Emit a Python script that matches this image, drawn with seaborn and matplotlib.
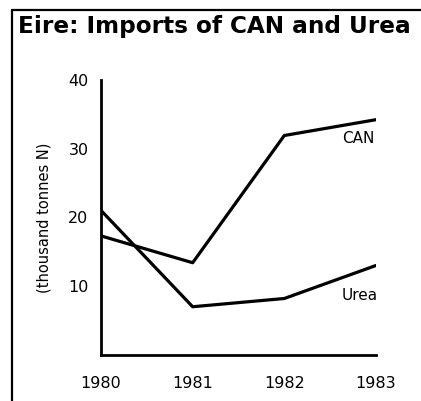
import pandas as pd
import numpy as np
import matplotlib.pyplot as plt
import seaborn as sns
from matplotlib.lines import Line2D

# values (thousand tonnes N)
years = [1980, 1981, 1982, 1983]
can_imports = [17.3, 13.4, 31.9, 34.2]
urea_imports = [21.0, 7.0, 8.2, 13.0]
y_ticks = [10, 20, 30, 40]

df = pd.DataFrame({
    'year': years * 2,
    'imports': can_imports + urea_imports,
    'product': ['CAN'] * len(years) + ['Urea'] * len(years),
})

sns.set_style('white')
plt.rcParams['font.family'] = ['DejaVu Sans']
plt.rcParams['text.color'] = 'black'
plt.rcParams['axes.labelcolor'] = 'black'
plt.rcParams['xtick.color'] = 'black'
plt.rcParams['ytick.color'] = 'black'

fig = plt.figure(figsize=(4.21, 4.01), dpi=100)
ax = fig.add_axes([0.240, 0.115, 0.653, 0.686])

sns.lineplot(data=df, x='year', y='imports', hue='product',
             palette={'CAN': 'black', 'Urea': 'black'},
             linewidth=2.3, legend=False, ax=ax)

ax.set_xlim(1980, 1983)
ax.set_ylim(0, 40)
ax.set_xticks(years)
ax.set_xticklabels([str(y) for y in years], fontsize=11.5)
ax.set_yticks(y_ticks)
ax.set_yticklabels([str(t) for t in y_ticks], fontsize=11.5)
ax.tick_params(axis='x', direction='out', length=6, width=1.3, pad=9)
ax.tick_params(axis='y', direction='out', length=5, width=1.3, pad=4)
ax.set_xlabel('')
ax.set_ylabel('(thousand tonnes N)', fontsize=10.5, labelpad=12)

sns.despine(ax=ax)
for side in ['left', 'bottom']:
    ax.spines[side].set_linewidth(2)
    ax.spines[side].set_color('black')

# direct labels at the right end of each line
ax.text(1982.63, 31.4, 'CAN', fontsize=11, va='center', ha='left')
ax.text(1982.63, 8.7, 'Urea', fontsize=11, va='center', ha='left')

# title and the box lines of the printed panel
fig.text(0.042, 0.933, 'Eire: Imports of CAN and Urea', fontsize=16.7,
         fontweight='bold', va='center', ha='left')
fig.add_artist(Line2D([0.029, 0.029], [0.975, 0.0], color='black', linewidth=1.6))
fig.add_artist(Line2D([0.029, 1.0], [0.975, 0.975], color='black', linewidth=1.6))

plt.savefig('out.png', dpi=100)
plt.close()
